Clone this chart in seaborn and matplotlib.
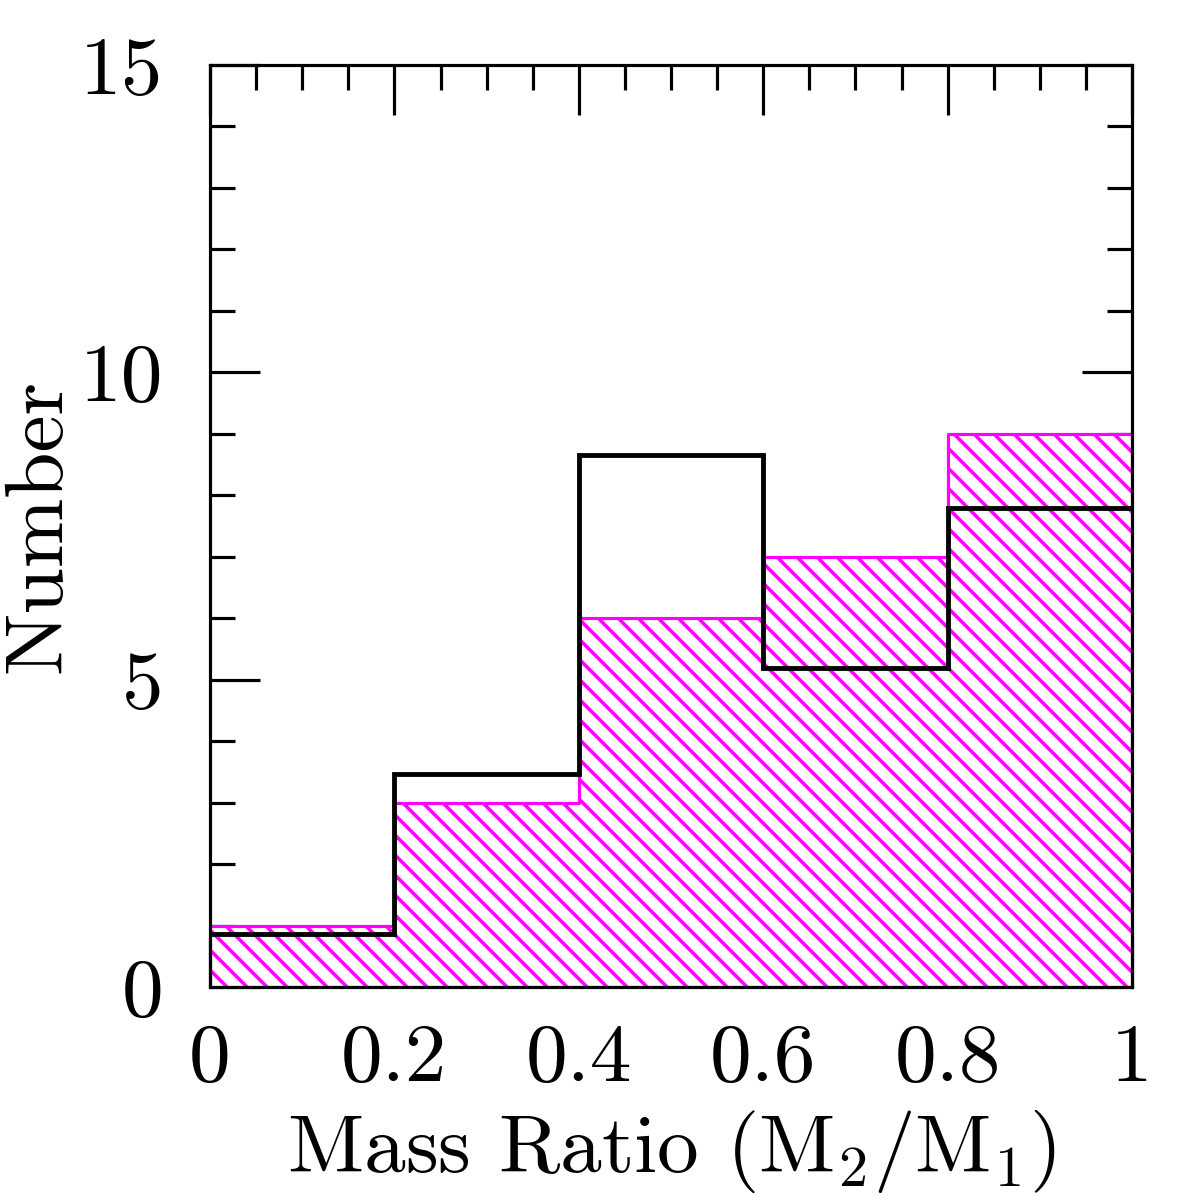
import matplotlib
matplotlib.use("Agg")
import matplotlib.pyplot as plt
from matplotlib.ticker import MultipleLocator, FixedLocator
import seaborn as sns

# ---- data ----
bin_edges = [0.0, 0.2, 0.4, 0.6, 0.8, 1.0]
bin_centers = [0.1, 0.3, 0.5, 0.7, 0.9]
magenta_counts = [1, 3, 6, 7, 9]
black_counts = [0.86, 3.47, 8.65, 5.19, 7.79]
xtick_vals = [0, 0.2, 0.4, 0.6, 0.8, 1.0]
xtick_labels = ["0", "0.2", "0.4", "0.6", "0.8", "1"]
ytick_vals = [0, 5, 10, 15]
ytick_labels = ["0", "5", "10", "15"]

sns.set_style("ticks")
plt.rcParams["font.family"] = ["cmr10", "DejaVu Serif"]
plt.rcParams["mathtext.fontset"] = "cm"
plt.rcParams["axes.formatter.use_mathtext"] = True
plt.rcParams["hatch.color"] = "#ff00ff"
plt.rcParams["hatch.linewidth"] = 2.1

DPI = 120
W = 1196
fig = plt.figure(figsize=(W / DPI, W / DPI), dpi=DPI)
fig.patch.set_facecolor("white")
ax = fig.add_axes([210 / W, 1 - 987 / W, 922 / W, 922 / W])
ax.set_facecolor("white")

sns.histplot(x=bin_centers, weights=magenta_counts, bins=bin_edges,
             element="step", fill=True, facecolor="white",
             edgecolor="#ff00ff", hatch="\\\\", linewidth=1.9, ax=ax)
sns.histplot(x=bin_centers, weights=black_counts, bins=bin_edges,
             element="step", fill=False, color="black", linewidth=2.9, ax=ax)
for ln in ax.lines:
    ln.set_solid_joinstyle("miter")

ax.set_xlim(0, 1)
ax.set_ylim(0, 15)
ax.xaxis.set_major_locator(FixedLocator(xtick_vals))
ax.set_xticklabels(xtick_labels)
ax.yaxis.set_major_locator(FixedLocator(ytick_vals))
ax.set_yticklabels(ytick_labels)
ax.xaxis.set_minor_locator(MultipleLocator(0.05))
ax.yaxis.set_minor_locator(MultipleLocator(1))

for s in ax.spines.values():
    s.set_visible(True)
    s.set_linewidth(1.9)
    s.set_color("black")

ax.tick_params(which="both", direction="in", top=True, right=True,
               width=1.9, color="black", labelsize=50, labelcolor="black")
ax.tick_params(which="major", length=30)
ax.tick_params(which="minor", length=15)
ax.tick_params(axis="x", which="major", pad=22)
ax.tick_params(axis="y", which="major", pad=28)

ax.set_xlabel("Mass Ratio (M$_2$/M$_1$)", fontsize=50, color="black")
ax.set_ylabel("Number", fontsize=50, color="black")
ax.xaxis.set_label_coords(0.5, -0.131)
ax.yaxis.set_label_coords(-0.1453, 0.5)

fig.savefig("out.png", dpi=DPI, facecolor="white")
